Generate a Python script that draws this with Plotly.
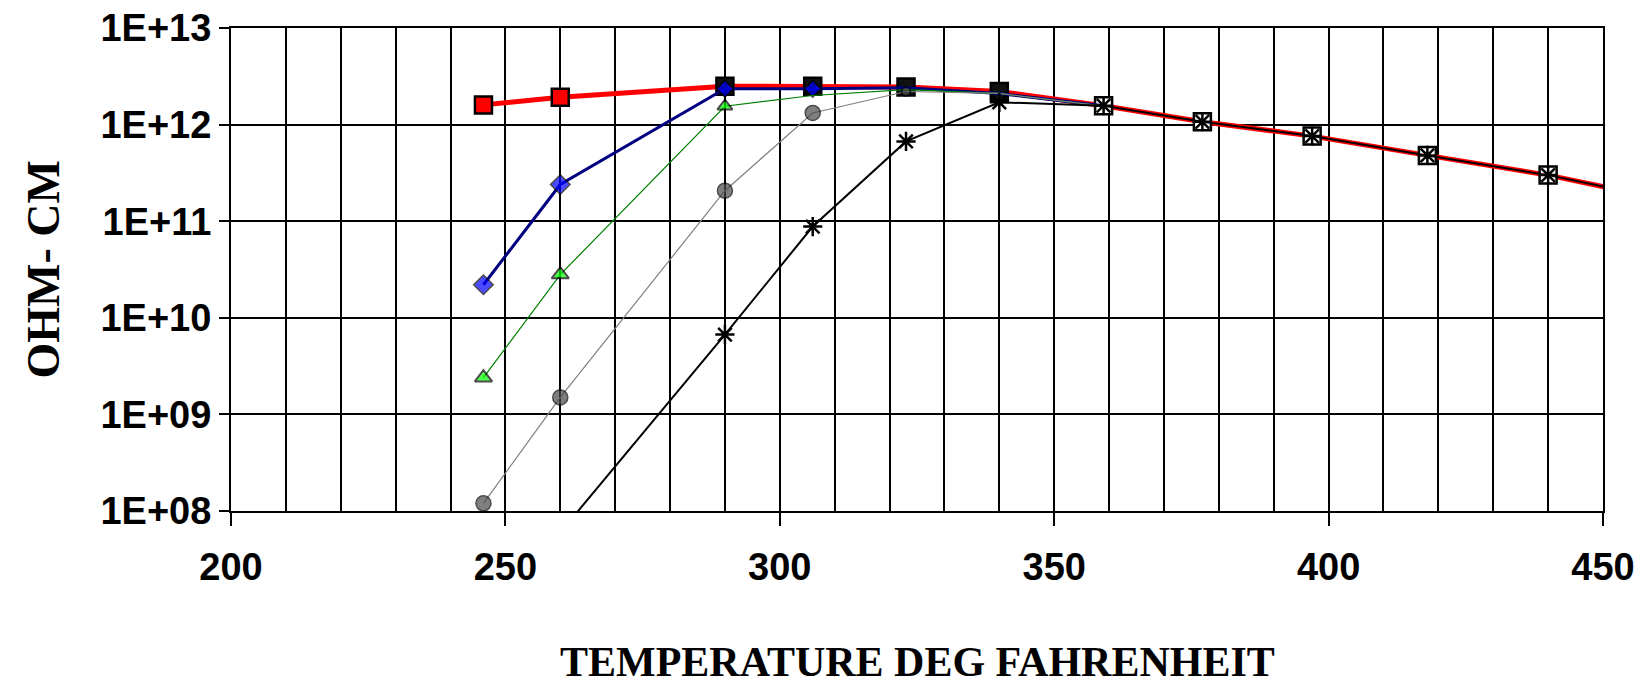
import plotly.graph_objects as go

# ---- data ----
temp_red = [246, 260, 290, 306, 323, 340, 359, 377, 397, 418, 440, 463]
ohm_red = [1.6e12, 1.92e12, 2.5e12, 2.5e12, 2.45e12, 2.2e12, 1.57e12, 1.07e12, 7.6e11, 4.8e11, 3.0e11, 1.6e11]

temp_mid = [246, 260, 290, 306, 323, 340, 359]
ohm_blue = [2.2e10, 2.4e11, 2.35e12, 2.35e12, 2.4e12, 2.1e12, 1.57e12]
ohm_green = [2.4e9, 2.8e10, 1.55e12, 2.0e12, 2.3e12, 2.1e12, 1.55e12]
ohm_gray = [1.2e8, 1.5e9, 2.07e11, 1.32e12, 2.2e12, 2.1e12, 1.55e12]

temp_black = [260, 290, 306, 323, 340, 359, 377, 397, 418, 440, 463]
ohm_black = [6e7, 6.7e9, 8.8e10, 6.7e11, 1.7e12, 1.57e12, 1.07e12, 7.6e11, 4.8e11, 3.0e11, 1.6e11]

y_tickvals = [1e8, 1e9, 1e10, 1e11, 1e12, 1e13]
y_ticktext = ["1E+08", "1E+09", "1E+10", "1E+11", "1E+12", "1E+13"]
x_tickvals = [200, 250, 300, 350, 400, 450]

x_title = "TEMPERATURE DEG FAHRENHEIT"
y_title = "OHM- CM"

# ---- styles ----
red_fill = ["red", "red", "#111111", "#111111", "#111111", "#111111"] + ["white"] * 6
mid_sizes_blue = [15, 15, 13, 13, 0, 0, 0]
mid_sizes_green = [15, 15, 13, 0, 0, 0, 0]
mid_sizes_gray = [15, 15, 15, 15, 9, 0, 0]

fig = go.Figure()

fig.add_trace(go.Scatter(
    x=temp_red, y=ohm_red, mode="lines+markers",
    line=dict(color="#ff0000", width=5),
    marker=dict(symbol="square", size=17, color=red_fill,
                line=dict(color="black", width=2.5)),
    showlegend=False))

fig.add_trace(go.Scatter(
    x=temp_mid, y=ohm_blue, mode="lines+markers",
    line=dict(color="#000080", width=3),
    marker=dict(symbol="diamond", size=mid_sizes_blue, color="#0000ff",
                line=dict(color="black", width=1.5)),
    showlegend=False))

fig.add_trace(go.Scatter(
    x=temp_mid, y=ohm_green, mode="lines+markers",
    line=dict(color="#008000", width=1.2),
    marker=dict(symbol="triangle-up", size=mid_sizes_green, color="#00ff00",
                line=dict(color="black", width=2)),
    showlegend=False))

fig.add_trace(go.Scatter(
    x=temp_mid, y=ohm_gray, mode="lines+markers",
    line=dict(color="#808080", width=1.2),
    marker=dict(symbol="circle", size=mid_sizes_gray, color="#4a4a4a",
                line=dict(color="black", width=1.5)),
    showlegend=False))

fig.add_trace(go.Scatter(
    x=temp_black, y=ohm_black, mode="lines+markers",
    line=dict(color="black", width=2),
    marker=dict(symbol="asterisk-open", size=16, color="black",
                line=dict(color="black", width=2.5)),
    showlegend=False))

tick_font = dict(family="Liberation Sans, Arial", size=38, color="black", weight="bold")

fig.update_xaxes(
    range=[200, 450], tickvals=x_tickvals,
    ticks="outside", ticklen=13, tickwidth=1.5, tickcolor="black",
    ticklabelstandoff=8, automargin=False, ticklabeloverflow="allow",
    showgrid=True, gridcolor="black", gridwidth=1.5,
    minor=dict(dtick=10, showgrid=True, gridcolor="black", gridwidth=1.5, ticks=""),
    showline=True, linecolor="black", linewidth=2, mirror=True,
    tickfont=tick_font, zeroline=False)

fig.update_yaxes(
    type="log", range=[8, 13], tickvals=y_tickvals, ticktext=y_ticktext,
    ticks="outside", ticklen=10, tickwidth=2, tickcolor="black",
    ticklabelstandoff=0, automargin=False, ticklabeloverflow="allow",
    showgrid=True, gridcolor="black", gridwidth=2,
    showline=True, linecolor="black", linewidth=2, mirror=True,
    tickfont=tick_font, zeroline=False)

title_font = dict(family="Liberation Serif, Times New Roman, serif", size=42,
                  color="black", weight="bold")

fig.add_annotation(text=x_title, xref="paper", yref="paper", x=0.5, y=-0.312,
                   xanchor="center", yanchor="middle", showarrow=False, font=title_font)
fig.add_annotation(text=y_title, xref="paper", yref="paper", x=-0.137, y=0.5,
                   xanchor="center", yanchor="middle", showarrow=False,
                   textangle=-90, font=dict(title_font, size=46))

fig.update_layout(
    width=1638, height=679,
    margin=dict(l=223, r=43, t=20, b=176, autoexpand=False),
    paper_bgcolor="white", plot_bgcolor="white",
    showlegend=False)

fig.write_html("out.html")
